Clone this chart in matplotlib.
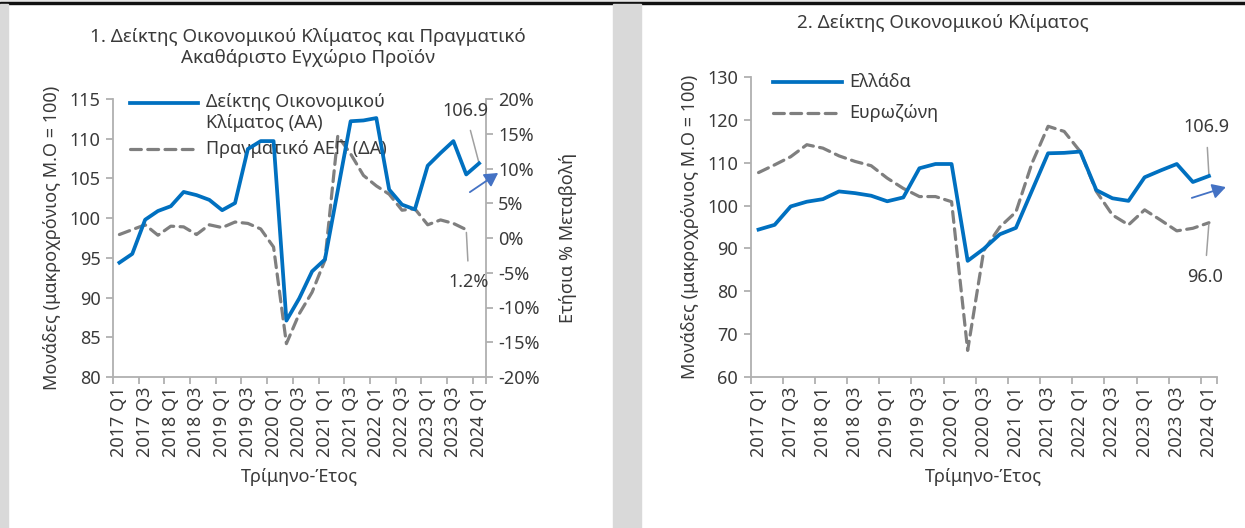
import numpy as np
import matplotlib
matplotlib.use("Agg")
import matplotlib.pyplot as plt
from matplotlib.lines import Line2D
from matplotlib.patches import Rectangle
from matplotlib.ticker import FuncFormatter

plt.rcParams['font.family'] = ['Noto Sans', 'DejaVu Sans']

# ---------------- data ----------------
quarters = [f"{y} Q{q}" for y in range(2017, 2025) for q in range(1, 5)][:29]
greece_esi = [94.4, 95.5, 99.8, 100.9, 101.5, 103.3, 102.9, 102.3, 101.0, 101.9,
              108.7, 109.7, 109.7, 87.1, 89.9, 93.3, 94.8, 103.5, 112.2, 112.3,
              112.6, 103.6, 101.7, 101.1, 106.6, 108.2, 109.7, 105.5, 106.9]
eurozone_esi = [107.7, 109.5, 111.4, 114.2, 113.4, 111.6, 110.3, 109.3, 106.4, 104.0,
                102.1, 102.1, 100.9, 66.2, 89.5, 95.0, 98.5, 109.9, 118.5, 117.3,
                112.6, 103.3, 97.8, 95.5, 99.0, 96.6, 94.1, 94.7, 96.0]
gdp_yoy = [0.5, 1.2, 1.9, 0.4, 1.7, 1.6, 0.5, 1.9, 1.5, 2.3,
           2.1, 1.3, -1.3, -15.2, -10.9, -7.8, -3.2, 14.7, 12.1, 9.0,
           7.5, 6.3, 4.0, 4.2, 1.9, 2.6, 2.1, 1.2, np.nan]

title1 = "1. Δείκτης Οικονομικού Κλίματος και Πραγματικό\nΑκαθάριστο Εγχώριο Προϊόν"
title2 = "2. Δείκτης Οικονομικού Κλίματος"
ylabel_left = "Μονάδες (μακροχρόνιος Μ.Ο = 100)"
ylabel_right = "Ετήσια % Μεταβολή"
xlabel = "Τρίμηνο-Έτος"
leg1_a = "Δείκτης Οικονομικού\nΚλίματος (ΑΑ)"
leg1_b = "Πραγματικό ΑΕΠ (ΔΑ)"
leg2_a = "Ελλάδα"
leg2_b = "Ευρωζώνη"

BLUE = "#0070C0"
GRAY = "#7F7F7F"
AXC = "#B0B0B0"
TXT = "#3A3A3A"
ARROW = "#4472C4"
FS = 13
TFS = 13.5

W, H = 1245, 528
fig = plt.figure(figsize=(W / 100, H / 100), dpi=100)
fig.patch.set_facecolor("white")

def px(x0, y0, x1, y1):
    return [x0 / W, 1 - y1 / H, (x1 - x0) / W, (y1 - y0) / H]

# decorative page elements
fig.patches.append(Rectangle((0, 1 - 2 / H), 1, 2 / H, transform=fig.transFigure,
                             color="#E6E6E6", zorder=0))
fig.patches.append(Rectangle((0, 1 - 3.5 / H), 1, 1.5 / H, transform=fig.transFigure,
                             color="#111111", zorder=0))
fig.patches.append(Rectangle((0, 0), 8 / W, 1 - 3.5 / H, transform=fig.transFigure,
                             color="#D9D9D9", zorder=0))
fig.patches.append(Rectangle((613 / W, 0), 28 / W, 1 - 3.5 / H, transform=fig.transFigure,
                             color="#D9D9D9", zorder=0))

x = np.arange(len(quarters))
major = x[::2]
minor = np.arange(-0.5, len(quarters), 2)
DASH = (3.4, 2.0)


def style_axes(ax, left=True):
    for s in ["top", "right", "left", "bottom"]:
        ax.spines[s].set_visible(False)
    ax.spines["bottom"].set_visible(True)
    ax.spines["bottom"].set_color(AXC)
    ax.spines["bottom"].set_linewidth(1.3)
    if left:
        ax.spines["left"].set_visible(True)
        ax.spines["left"].set_color(AXC)
        ax.spines["left"].set_linewidth(1.3)
    ax.set_xlim(-0.5, len(quarters) - 0.5)
    ax.set_xticks(major)
    ax.set_xticklabels([quarters[i] for i in major], rotation=90, fontsize=FS, color=TXT)
    ax.set_xticks(np.append(minor, len(quarters) - 0.5), minor=True)
    ax.tick_params(axis="x", which="major", length=0, pad=7)
    ax.tick_params(axis="x", which="minor", length=5, width=1.3, color=AXC)
    ax.tick_params(axis="y", length=5, width=1.3, color=AXC, labelsize=FS,
                   labelcolor=TXT, pad=4)


# ---------------- chart 1 ----------------
ax1 = fig.add_axes(px(113, 99, 485.5, 377))
style_axes(ax1)
ax1.set_ylim(80, 115)
ax1.set_yticks(np.arange(80, 116, 5))
ax1.plot(x, greece_esi, color=BLUE, lw=2.7, zorder=4)
ax1.set_ylabel(ylabel_left, fontsize=FS, color=TXT, labelpad=6)
ax1.set_xlabel(xlabel, fontsize=FS, color=TXT, labelpad=8)

ax1r = ax1.twinx()
for s in ["top", "right", "left", "bottom"]:
    ax1r.spines[s].set_visible(False)
ax1r.spines["right"].set_visible(True)
ax1r.spines["right"].set_color(AXC)
ax1r.spines["right"].set_linewidth(1.3)
ax1r.set_ylim(-20, 20)
ax1r.set_yticks(np.arange(-20, 21, 5))
ax1r.yaxis.set_major_formatter(FuncFormatter(lambda v, p: f"{v:.0f}%"))
ax1r.tick_params(axis="y", length=5, width=1.3, color=AXC, labelsize=FS,
                 labelcolor=TXT, pad=4)
ax1r.plot(x, gdp_yoy, color=GRAY, lw=2.3, dashes=DASH,
          dash_capstyle="round", zorder=3)
ax1r.set_ylabel(ylabel_right, fontsize=FS, color=TXT, labelpad=14)
ax1.set_zorder(ax1r.get_zorder() + 1)
ax1.patch.set_visible(False)

ax1.set_title(title1, fontsize=TFS, color=TXT, pad=26, linespacing=1.2,
              x=(308 - 113) / 372.5)

# data labels chart 1
last = len(quarters) - 1
ax1.annotate(f"{greece_esi[last]:.1f}", xy=(x[last], greece_esi[last]),
             xytext=(-10, 38), textcoords="offset points", ha="center", va="center",
             fontsize=FS, color=TXT,
             arrowprops=dict(arrowstyle="-", color="#A0A0A0", lw=1.1,
                             shrinkA=6, shrinkB=1))
gi = last - 1
ax1r.annotate(f"{gdp_yoy[gi]:.1f}%", xy=(x[gi], gdp_yoy[gi]),
              xytext=(2, -38), textcoords="offset points", ha="center", va="center",
              fontsize=FS, color=TXT,
              arrowprops=dict(arrowstyle="-", color="#A0A0A0", lw=1.1,
                              shrinkA=7, shrinkB=2))
ax1.annotate("", xy=(1.034, 0.734), xytext=(0.958, 0.665), xycoords="axes fraction",
             textcoords="axes fraction", annotation_clip=False,
             arrowprops=dict(arrowstyle="-|>,head_length=0.8,head_width=0.45",
                             color=ARROW, lw=1.3, shrinkA=0, shrinkB=0))

# legend chart 1 (manual)
ax1.add_line(Line2D([0.046, 0.228], [0.986, 0.986], transform=ax1.transAxes,
                    color=BLUE, lw=2.7, clip_on=False))
ax1.text(0.25, 1.022, leg1_a, transform=ax1.transAxes, fontsize=FS, color=TXT,
         va="top", ha="left", linespacing=1.2)
ax1.add_line(Line2D([0.046, 0.228], [0.820, 0.820], transform=ax1.transAxes,
                    color=GRAY, lw=2.3, dashes=DASH, dash_capstyle="round",
                    clip_on=False))
ax1.text(0.25, 0.820, leg1_b, transform=ax1.transAxes, fontsize=FS, color=TXT,
         va="center", ha="left")

# ---------------- chart 2 ----------------
ax2 = fig.add_axes(px(750.5, 77, 1217, 377))
style_axes(ax2)
ax2.set_ylim(60, 130)
ax2.set_yticks(np.arange(60, 131, 10))
ax2.plot(x, eurozone_esi, color=GRAY, lw=2.3, dashes=DASH,
         dash_capstyle="round", zorder=3)
ax2.plot(x, greece_esi, color=BLUE, lw=2.7, zorder=4)
ax2.set_ylabel(ylabel_left, fontsize=FS, color=TXT, labelpad=6)
ax2.set_xlabel(xlabel, fontsize=FS, color=TXT, labelpad=8)
ax2.set_title(title2, fontsize=TFS, color=TXT, x=(943 - 750.5) / 466.5, pad=35)

ax2.annotate(f"{greece_esi[last]:.1f}", xy=(x[last], greece_esi[last]),
             xytext=(-2, 35), textcoords="offset points", ha="center", va="center",
             fontsize=FS, color=TXT,
             arrowprops=dict(arrowstyle="-", color="#A0A0A0", lw=1.1,
                             shrinkA=6, shrinkB=1))
ax2.annotate(f"{eurozone_esi[last]:.1f}", xy=(x[last], eurozone_esi[last]),
             xytext=(-3, -39), textcoords="offset points", ha="center", va="center",
             fontsize=FS, color=TXT,
             arrowprops=dict(arrowstyle="-", color="#A0A0A0", lw=1.1,
                             shrinkA=7, shrinkB=1))
ax2.annotate("", xy=(1.019, 0.633), xytext=(0.946, 0.597), xycoords="axes fraction",
             textcoords="axes fraction", annotation_clip=False,
             arrowprops=dict(arrowstyle="-|>,head_length=0.8,head_width=0.45",
                             color=ARROW, lw=1.3, shrinkA=0, shrinkB=0))

ax2.add_line(Line2D([0.048, 0.196], [0.984, 0.984], transform=ax2.transAxes,
                    color=BLUE, lw=2.7, clip_on=False))
ax2.text(0.211, 0.984, leg2_a, transform=ax2.transAxes, fontsize=FS, color=TXT,
         va="center", ha="left")
ax2.add_line(Line2D([0.048, 0.196], [0.879, 0.879], transform=ax2.transAxes,
                    color=GRAY, lw=2.3, dashes=DASH, dash_capstyle="round",
                    clip_on=False))
ax2.text(0.211, 0.879, leg2_b, transform=ax2.transAxes, fontsize=FS, color=TXT,
         va="center", ha="left")

fig.savefig("out.png", dpi=100, facecolor=fig.get_facecolor())
